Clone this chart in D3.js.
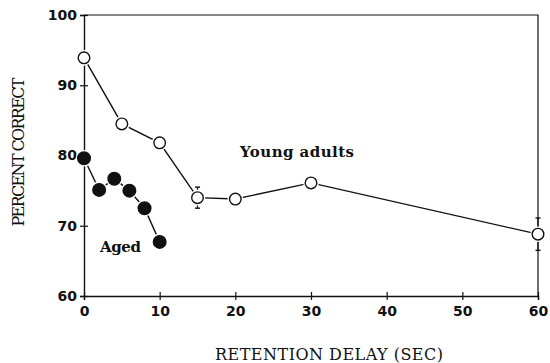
<!DOCTYPE html>
<html>
<head>
<meta charset="utf-8">
<script src="https://cdn.jsdelivr.net/npm/d3@7"></script>
<style>
  html, body { margin: 0; padding: 0; background: #fff; }
  svg { display: block; }
</style>
</head>
<body>
<svg id="chart" width="550" height="363"></svg>
<script>
// Retention delay (sec) and percent correct for each group
const youngDelay   = [0, 5, 10, 15, 20, 30, 60];
const youngPercent = [93.9, 84.5, 81.8, 74.0, 73.8, 76.1, 68.8];
const youngError   = [0, 0, 0, 1.5, 0, 0, 2.3];

const agedDelay    = [0, 2, 4, 6, 8, 10];
const agedPercent  = [79.6, 75.1, 76.7, 75.0, 72.5, 67.7];

const xTicks = [0, 10, 20, 30, 40, 50, 60];
const yTicks = [60, 70, 80, 90, 100];

const svg = d3.select("#chart");
const plotLeft = 84, plotRight = 538, plotTop = 15, plotBottom = 296;

const x = d3.scaleLinear().domain([0, 60]).range([plotLeft, plotRight]);
const y = d3.scaleLinear().domain([60, 100]).range([plotBottom, plotTop]);

const ink = "#111";
const tickFont = "'DejaVu Sans', sans-serif";
const serif = "'DejaVu Serif', serif";

// Frame: top and right edges
svg.append("path")
  .attr("d", `M${plotLeft},${plotTop}H${plotRight}V${plotBottom}`)
  .attr("fill", "none").attr("stroke", ink).attr("stroke-width", 1.2);

// Axes with ticks crossing the axis line
const xAxis = svg.append("g").attr("transform", `translate(0,${plotBottom})`)
  .call(d3.axisBottom(x).tickValues(xTicks).tickSize(4).tickPadding(4).tickFormat(d3.format("d")));
xAxis.selectAll(".tick line").attr("y1", -4);
const yAxis = svg.append("g").attr("transform", `translate(${plotLeft},0)`)
  .call(d3.axisLeft(y).tickValues(yTicks).tickSize(4).tickPadding(3).tickFormat(d3.format("d")));
yAxis.selectAll(".tick line").attr("x1", 4);

[xAxis, yAxis].forEach(g => {
  g.select(".domain").attr("stroke", ink).attr("stroke-width", 1.4);
  g.selectAll(".tick line").attr("stroke", ink).attr("stroke-width", 1.2);
  g.selectAll(".tick text").attr("fill", ink)
    .style("font-family", tickFont).style("font-weight", "bold").style("font-size", "14px");
});
xAxis.selectAll(".tick text").attr("dy", "0.85em");

// Axis titles
svg.append("text")
  .attr("x", 329).attr("y", 360).attr("text-anchor", "middle")
  .attr("textLength", 228).attr("lengthAdjust", "spacing")
  .style("font-family", serif).style("font-size", "16px").attr("fill", ink)
  .text("RETENTION DELAY (SEC)");
svg.append("text")
  .attr("transform", "translate(24,152) rotate(-90)").attr("text-anchor", "middle")
  .attr("textLength", 149).attr("lengthAdjust", "spacing")
  .style("font-family", serif).style("font-size", "16px").attr("fill", ink)
  .text("PERCENT CORRECT");

// Group labels
svg.append("text")
  .attr("x", 240).attr("y", 157)
  .attr("textLength", 114).attr("lengthAdjust", "spacing")
  .style("font-family", serif).style("font-weight", "bold").style("font-size", "15px").attr("fill", ink)
  .text("Young adults");
svg.append("text")
  .attr("x", 100).attr("y", 252)
  .attr("textLength", 41).attr("lengthAdjust", "spacing")
  .style("font-family", serif).style("font-weight", "bold").style("font-size", "15px").attr("fill", ink)
  .text("Aged");

const line = d3.line().x(d => x(d[0])).y(d => y(d[1]));

function drawSeries(delays, values, errors, filled, r) {
  const pts = delays.map((d, i) => [d, values[i], errors ? errors[i] : 0]);
  svg.append("path").datum(pts).attr("d", line)
    .attr("fill", "none").attr("stroke", ink).attr("stroke-width", 1.4);
  // error bars
  const eb = svg.append("g");
  pts.filter(p => p[2] > 0).forEach(p => {
    const cx = x(p[0]);
    eb.append("line").attr("x1", cx).attr("x2", cx)
      .attr("y1", y(p[1] + p[2])).attr("y2", y(p[1] - p[2]))
      .attr("stroke", ink).attr("stroke-width", 1.2);
    [p[1] + p[2], p[1] - p[2]].forEach(v => {
      eb.append("line").attr("x1", cx - 2.5).attr("x2", cx + 2.5)
        .attr("y1", y(v)).attr("y2", y(v)).attr("stroke", ink).attr("stroke-width", 1.4);
    });
  });
  const g = svg.append("g");
  // white halo so connecting lines stop short of each marker
  g.selectAll(".halo").data(pts).join("circle").attr("class", "halo")
    .attr("cx", d => x(d[0])).attr("cy", d => y(d[1])).attr("r", r + 2)
    .attr("fill", "#fff");
  g.selectAll(".mark").data(pts).join("circle").attr("class", "mark")
    .attr("cx", d => x(d[0])).attr("cy", d => y(d[1])).attr("r", r)
    .attr("fill", filled ? ink : "#fff").attr("stroke", ink).attr("stroke-width", 1.4);
}

drawSeries(youngDelay, youngPercent, youngError, false, 5.8);
drawSeries(agedDelay, agedPercent, null, true, 6.3);
</script>
</body>
</html>
